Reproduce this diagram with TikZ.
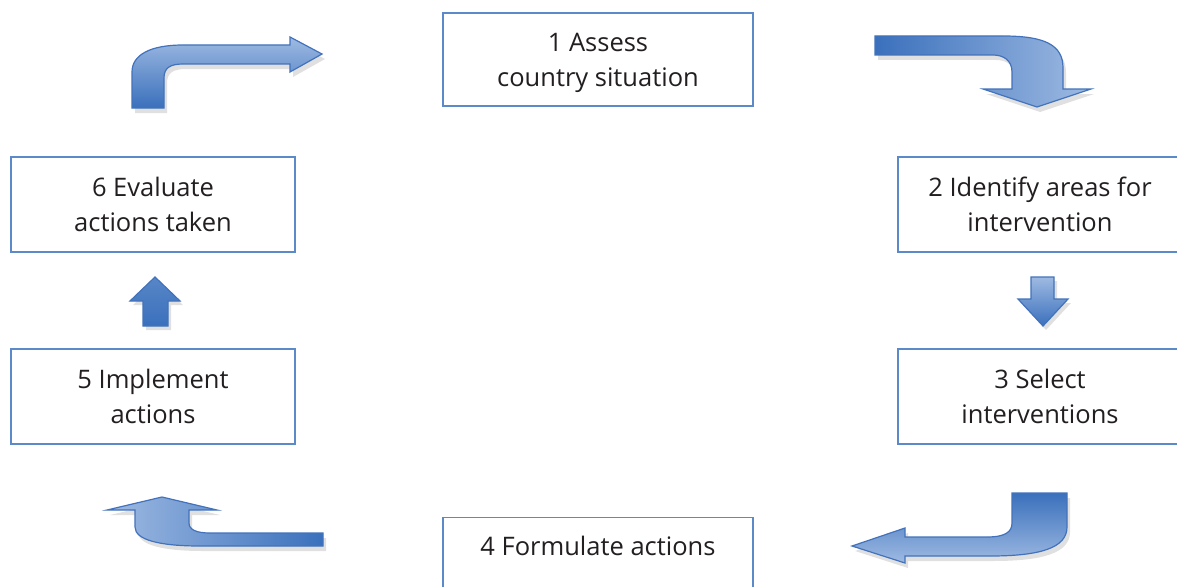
\documentclass[tikz,border=0pt]{standalone}
\usepackage{fontspec}
\setmainfont{Open Sans}
\definecolor{boxline}{RGB}{92,138,200}
\definecolor{arrline}{RGB}{66,114,188}
\definecolor{arrdark}{RGB}{58,112,188}
\definecolor{arrlight}{RGB}{158,186,226}
\definecolor{txt}{RGB}{35,31,32}
\tikzset{
  stepbox/.style={draw=boxline, line width=1.3pt, fill=white, text=txt,
    align=center, font=\fontsize{25.5}{35}\selectfont, inner sep=0pt, text depth=0pt},
  arrowshape/.style={draw=arrline, line width=1.2pt, line join=miter},
  arrowshadow/.style={fill=black, opacity=0.12, draw=none},
}
\def\pathTL{(132,108) -- (132,72) .. controls (132,55) and (150,45) .. (183,45) -- (290,45) -- (290,37) -- (322,54) -- (290,72) -- (290,64) -- (183,64) .. controls (170,64) and (164,68) .. (164,78) -- (164,108) -- cycle}
\def\pathTR{(875,36) -- (1003,36) .. controls (1045,36) and (1063,45) .. (1063,68) -- (1063,89) -- (1091,89) -- (1037,107) -- (983,89) -- (1012,89) -- (1012,72) .. controls (1012,60) and (1003,55) .. (993,55) -- (875,55) -- cycle}
\def\pathBR{(1012,493) -- (1067,493) -- (1067,527) .. controls (1067,548) and (1040,556) .. (990,556) -- (905,556) -- (905,563) -- (852,546) -- (905,528) -- (905,537) -- (987,537) .. controls (1005,537) and (1012,532) .. (1012,523) -- cycle}
\def\pathBL{(323,533) -- (323,546) -- (200,546) .. controls (160,546) and (135,540) .. (135,527) -- (135,510) -- (107,510) -- (162,497) -- (217,510) -- (189,510) -- (189,523) .. controls (189,530) and (197,533) .. (210,533) -- cycle}
\def\pathUP{(143,326) -- (143,301) -- (130,301) -- (155,277) -- (180,301) -- (168,301) -- (168,326) -- cycle}
\def\pathDN{(1031,277) -- (1054,277) -- (1054,299) -- (1068,299) -- (1043,326) -- (1018,299) -- (1031,299) -- cycle}
\begin{document}
\begin{tikzpicture}[x=1pt,y=-1pt]
\useasboundingbox[fill=white] (0,0) rectangle (1177,586);
\begin{scope}
\clip (0,0) rectangle (1177,586);
% boxes
\node[stepbox, minimum width=310pt, minimum height=93pt] (b1) at (598,59.5) {1 Assess\\country situation};
\node[stepbox, minimum width=284pt, minimum height=95pt] (b2) at (1040,204.5) {2 Identify areas for\\intervention};
\node[stepbox, minimum width=284pt, minimum height=95pt] (b3) at (1040,396.5) {3 Select\\interventions};
\node[stepbox, minimum width=310pt, text height=38pt, text depth=60pt, anchor=north] (b4) at (598,517) {4 Formulate actions};
\node[stepbox, minimum width=284pt, minimum height=95pt] (b5) at (153,396.5) {5 Implement\\actions};
\node[stepbox, minimum width=284pt, minimum height=95pt] (b6) at (153,204.5) {6 Evaluate\\actions taken};
% arrow shadows
\fill[arrowshadow, shift={(3,5)}] \pathTL;
\fill[arrowshadow, shift={(3,5)}] \pathTR;
\fill[arrowshadow, shift={(3,5)}] \pathBR;
\fill[arrowshadow, shift={(3,5)}] \pathBL;
\fill[arrowshadow, shift={(3,4)}] \pathUP;
\fill[arrowshadow, shift={(3,4)}] \pathDN;
% arrows
\draw[arrowshape, top color=arrlight, bottom color=arrdark] \pathTL;
\draw[arrowshape, left color=arrdark, right color=arrlight] \pathTR;
\draw[arrowshape, top color=arrdark, bottom color=arrlight] \pathBR;
\draw[arrowshape, left color=arrlight, right color=arrdark] \pathBL;
\draw[arrowshape, top color=arrdark!70!arrlight, bottom color=arrdark] \pathUP;
\draw[arrowshape, top color=arrlight, bottom color=arrdark] \pathDN;
\end{scope}
\end{tikzpicture}
\end{document}
